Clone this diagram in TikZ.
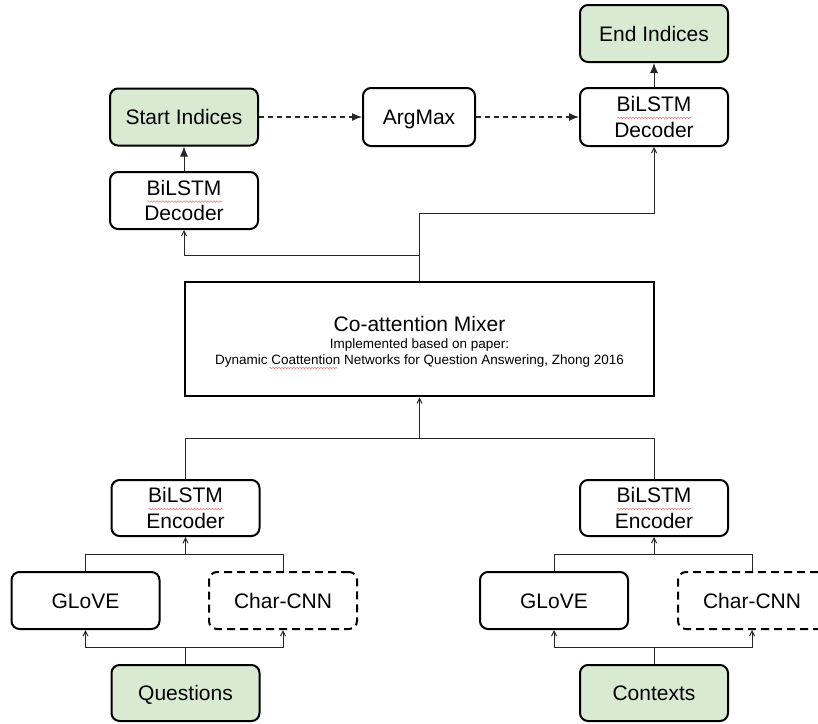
\documentclass[tikz,border=0pt]{standalone}
\usepackage{fontspec}
\setmainfont{Liberation Sans}
\usetikzlibrary{arrows.meta,decorations.pathmorphing}
\definecolor{boxgreen}{HTML}{D9EAD3}
\begin{document}
\begin{tikzpicture}[x=1pt,y=-1pt,
  box/.style={draw=black,line width=2pt,rounded corners=8pt,minimum width=148pt,minimum height=57pt,inner sep=0pt,align=center,font=\fontsize{21}{25.5}\selectfont,text height=15pt,text depth=0pt},
  twoline/.style={text height=40.5pt,text depth=0pt},
  gbox/.style={box,fill=boxgreen},
  dbox/.style={box,dash pattern=on 8pt off 5pt},
  conn/.style={line width=1pt,draw=black!85},
  dconn/.style={line width=1.2pt,draw=black!85,dash pattern=on 5pt off 4pt},
  bigtip/.style={-{Latex[length=10pt,width=8pt]}},
  smalltip/.style={-{Straight Barb[length=5pt,width=5pt]}},
  squig/.style={draw=red!55,line width=0.5pt,decorate,decoration={snake,segment length=3pt,amplitude=0.8pt}}
]
\useasboundingbox (0,0) rectangle (818,723);
\fill[white] (0,0) rectangle (818,723);

% top row
\node[gbox] (endi) at (654,33.5) {End Indices};
\node[gbox] (start) at (184,117) {Start Indices};
\node[box,minimum width=112pt,minimum height=58pt] (argmax) at (419,117) {ArgMax};
\node[box,twoline,minimum height=58pt] (decR) at (654,117) {BiLSTM\\Decoder};
\node[box,twoline] (decL) at (184,200.5) {BiLSTM\\Decoder};

% mixer
\node[draw=black,line width=2.7pt,minimum width=469pt,minimum height=114pt,inner sep=0pt] (mixer) at (419.5,339) {};
\node[anchor=base,font=\fontsize{21}{25}\selectfont] (mixtitle) at (419.5,331) {Co-attention Mixer};
\node[anchor=base,font=\fontsize{13.5}{16}\selectfont] (mixsub1) at (419.5,348) {Implemented based on paper:};
\node[anchor=base,font=\fontsize{13.5}{16}\selectfont] (mixsub2) at (419.5,364) {Dynamic Coattention Networks for Question Answering, Zhong 2016};

% encoders
\node[box,twoline,minimum height=56pt] (encL) at (185.5,508) {BiLSTM\\Encoder};
\node[box,twoline,minimum height=56pt] (encR) at (654,508) {BiLSTM\\Encoder};

% embeddings
\node[box] (gloveL) at (85.5,600.5) {GLoVE};
\node[dbox] (charL) at (283,600.5) {Char-CNN};
\node[box] (gloveR) at (554,600.5) {GLoVE};
\node[dbox] (charR) at (752,600.5) {Char-CNN};

% inputs
\node[gbox,minimum height=56pt] (quest) at (185.5,693) {Questions};
\node[gbox,minimum height=56pt] (ctx) at (654,693) {Contexts};

% spell-check marks
\draw[squig] (147,201.5) -- (222,201.5);
\draw[squig] (617,118) -- (691,118);
\draw[squig] (148.5,509) -- (222.5,509);
\draw[squig] (617,509) -- (691,509);
\draw[squig] (269,368) -- (338,368);

% junction coordinates
\coordinate (jtop) at (419.5,213);
\coordinate (jleft) at (419.5,255);
\coordinate (jenc) at (419.5,438);
\coordinate (mqL) at (185.5,554);
\coordinate (sqL) at (185.5,647);
\coordinate (mqR) at (654,554);
\coordinate (sqR) at (654,647);

% top connectors
\draw[dconn,bigtip] (start.east) -- (argmax.west);
\draw[dconn,bigtip] (argmax.east) -- (decR.west);
\draw[conn,bigtip] (decR.north) -- (endi.south);
\draw[conn,bigtip] (decL.north) -- (start.south);
\draw[conn,smalltip] (mixer.north) -- (jtop) -| (decR.south);
\draw[conn,smalltip] (jleft) -| (decL.south);

% encoders to mixer
\draw[conn] (encL.north) |- (jenc);
\draw[conn] (encR.north) |- (jenc);
\draw[conn,smalltip] (jenc) -- (mixer.south);

% embeddings to encoders
\draw[conn] (gloveL.north) |- (mqL) -| (charL.north);
\draw[conn,smalltip] (mqL) -- (encL.south);
\draw[conn] (gloveR.north) |- (mqR) -| (charR.north);
\draw[conn,smalltip] (mqR) -- (encR.south);

% inputs to embeddings
\draw[conn] (quest.north) -- (sqL);
\draw[conn,smalltip] (sqL) -| (gloveL.south);
\draw[conn,smalltip] (sqL) -| (charL.south);
\draw[conn] (ctx.north) -- (sqR);
\draw[conn,smalltip] (sqR) -| (gloveR.south);
\draw[conn,smalltip] (sqR) -| (charR.south);
\end{tikzpicture}
\end{document}
